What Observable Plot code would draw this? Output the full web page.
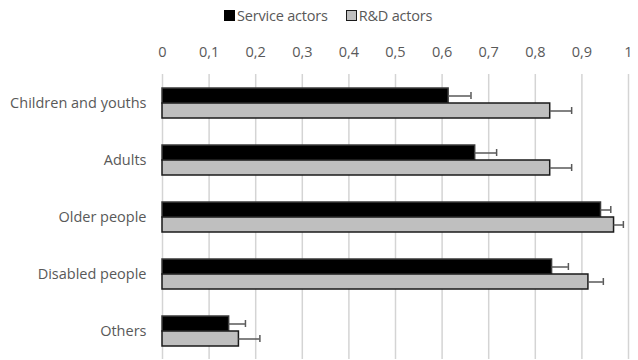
<!DOCTYPE html>
<html>
<head>
<meta charset="utf-8">
<script src="https://cdn.jsdelivr.net/npm/d3@7"></script>
<script src="https://cdn.jsdelivr.net/npm/@observablehq/plot@0.6"></script>
<style>
  html, body { margin: 0; padding: 0; background: #fff; }
  body { width: 638px; height: 360px; overflow: hidden; font-family: "Open Sans", sans-serif; }
  #legend { height: 30px; display: flex; align-items: center; padding-left: 224px; font-size: 14.5px; color: #595959; box-sizing: border-box; padding-top: 1px; }
  .sw { width: 11px; height: 11px; display: inline-block; margin-right: 2px; box-sizing: border-box; }
  .item { display: flex; align-items: center; margin-right: 18px; letter-spacing: -0.2px; }
</style>
</head>
<body>
<div id="legend"></div>
<div id="chart"></div>
<script>
const categories = ["Children and youths", "Adults", "Older people", "Disabled people", "Others"];
const seriesNames = ["Service actors", "R&D actors"];
const serviceValues = [0.614, 0.671, 0.941, 0.836, 0.143];
const serviceErrors = [0.048, 0.046, 0.021, 0.035, 0.035];
const rdValues = [0.832, 0.832, 0.969, 0.914, 0.164];
const rdErrors = [0.046, 0.046, 0.020, 0.032, 0.045];
const xTicks = [0, 0.1, 0.2, 0.3, 0.4, 0.5, 0.6, 0.7, 0.8, 0.9, 1];

const fills = {"Service actors": "#000000", "R&D actors": "#bfbfbf"};
const strokes = {"Service actors": "#3a3a3a", "R&D actors": "#1a1a1a"};

const data = [];
categories.forEach((c, i) => {
  data.push({category: c, series: seriesNames[0], value: serviceValues[i], err: serviceErrors[i]});
  data.push({category: c, series: seriesNames[1], value: rdValues[i], err: rdErrors[i]});
});

// legend
const legend = document.getElementById("legend");
seriesNames.forEach(s => {
  const it = document.createElement("span");
  it.className = "item";
  const sw = document.createElement("span");
  sw.className = "sw";
  sw.style.background = fills[s];
  sw.style.border = "1.5px solid " + (s === "R&D actors" ? "#1a1a1a" : "#000");
  it.appendChild(sw);
  it.appendChild(document.createTextNode(s));
  legend.appendChild(it);
});

const fmt = d => String(d).replace(".", ",");

const chart = Plot.plot({
  width: 638,
  height: 330,
  marginTop: 42,
  marginBottom: 0,
  marginLeft: 162,
  marginRight: 10,
  style: {fontFamily: "Open Sans, sans-serif", fontSize: "14px", color: "#595959", background: "#fff"},
  x: {domain: [0, 1], ticks: xTicks, tickFormat: fmt},
  fy: {domain: categories, padding: 0, label: null},
  y: {domain: seriesNames, paddingInner: 0, paddingOuter: 0.845, axis: null},
  marks: [
    Plot.gridX(xTicks, {stroke: "#d4d4d4", strokeOpacity: 1, strokeWidth: 1.5}),
    Plot.axisX({anchor: "top", ticks: xTicks, tickFormat: fmt, tickSize: 0, tickPadding: 18, label: null, fill: "#595959", fontSize: 14.5}),
    Plot.axisFy({anchor: "left", tickSize: 0, tickPadding: 16, label: null, fill: "#595959", fontSize: 14.5}),
    Plot.barX(data, {
      fy: "category", y: "series", x1: 0, x2: "value",
      fill: d => fills[d.series], stroke: d => strokes[d.series], strokeWidth: 1.5
    }),
    Plot.ruleY(data, {
      fy: "category", y: "series", x1: "value", x2: d => d.value + d.err,
      stroke: "#595959", strokeWidth: 1.5
    }),
    Plot.tickX(data, {
      fy: "category", y: "series", x: d => d.value + d.err,
      stroke: "#595959", strokeWidth: 1.5, insetTop: 4, insetBottom: 4
    })
  ]
});
document.getElementById("chart").appendChild(chart);
</script>
</body>
</html>
